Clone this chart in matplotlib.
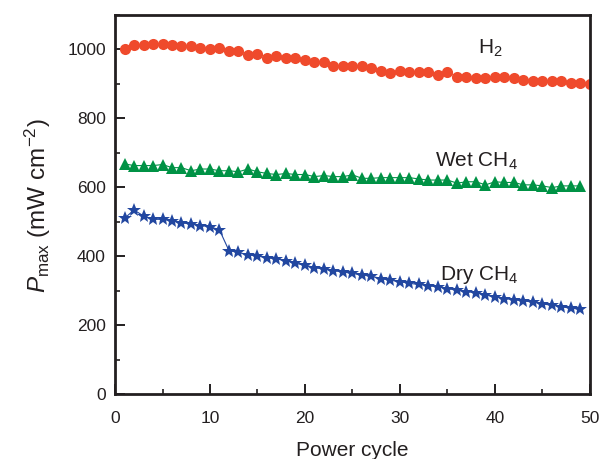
import matplotlib
matplotlib.use("Agg")
import matplotlib.pyplot as plt
from matplotlib.ticker import MultipleLocator

plt.rcParams['font.family'] = ['Liberation Sans', 'DejaVu Sans']
plt.rcParams['mathtext.fontset'] = 'custom'
plt.rcParams['mathtext.rm'] = 'Liberation Sans'
plt.rcParams['mathtext.it'] = 'Liberation Sans:italic'

# Data
cycles_h2 = list(range(1, 51))
h2 = [1000, 1013, 1013, 1017, 1017, 1013, 1009, 1009, 1005, 1000,
      1005, 995, 995, 985, 988, 976, 980, 976, 976, 970,
      963, 963, 951, 951, 951, 951, 946, 938, 933, 938,
      934, 934, 934, 925, 934, 920, 920, 916, 916, 921,
      921, 916, 912, 908, 908, 908, 908, 903, 903, 900]

cycles_ch4 = list(range(1, 50))
wet_ch4 = [668, 663, 663, 663, 666, 657, 657, 648, 653, 653,
           648, 648, 645, 653, 645, 640, 637, 640, 637, 637,
           631, 634, 631, 631, 636, 626, 626, 628, 628, 628,
           628, 624, 621, 621, 621, 612, 616, 616, 607, 616,
           614, 614, 607, 607, 604, 599, 604, 604, 604]
dry_ch4 = [510, 534, 517, 507, 507, 502, 497, 493, 489, 486,
           476, 416, 411, 404, 400, 396, 392, 387, 379, 374,
           367, 362, 358, 354, 350, 345, 342, 335, 330, 326,
           321, 318, 314, 311, 306, 301, 297, 294, 287, 282,
           277, 274, 270, 267, 261, 258, 253, 249, 246]

x_ticks = [0, 10, 20, 30, 40, 50]
y_ticks = [0, 200, 400, 600, 800, 1000]

fig = plt.figure(figsize=(6.04, 4.59), dpi=100)
ax = fig.add_axes([0.1904, 0.1416, 0.7864, 0.8257])

ax.plot(cycles_h2, h2, color='#EF4A2C', marker='o', markersize=8.0,
        linewidth=0.8, markeredgewidth=0, zorder=3)
ax.plot(cycles_ch4, wet_ch4, color='#009245', marker='^', markersize=8.2,
        linewidth=0.8, markeredgewidth=0, zorder=3)
ax.plot(cycles_ch4, dry_ch4, color='#2247A0', marker='*', markersize=10.5,
        linewidth=0.8, markeredgewidth=0, zorder=3)

ax.set_xlim(0, 50)
ax.set_ylim(0, 1100)
ax.set_xticks(x_ticks)
ax.set_yticks(y_ticks)
ax.xaxis.set_minor_locator(MultipleLocator(5))
ax.yaxis.set_minor_locator(MultipleLocator(100))

for s in ax.spines.values():
    s.set_linewidth(2.0)
    s.set_color('#231F20')
    s.set_zorder(4)

ax.tick_params(which='major', direction='in', length=7, width=1.4,
               labelsize=12.5, pad=6.5, colors='#231F20',
               top=False, right=False)
ax.tick_params(which='minor', direction='in', length=3.5, width=1.2,
               colors='#231F20', top=False, right=False)
ax.tick_params(axis='x', which='major', pad=12.5)

ax.set_xlabel('Power cycle', fontsize=15, color='#231F20')
ax.xaxis.set_label_coords(0.5, -0.124)
fig.text(0.062, 0.551, r'$P_{\mathrm{max}}$ (mW cm$^{-2}$)', fontsize=17.5,
         color='#231F20', rotation=90, ha='center', va='center')

ax.text(38.2, 1003, r'H$_2$', fontsize=15, color='#231F20', va='center')
ax.text(33.7, 675, r'Wet CH$_4$', fontsize=15, color='#231F20', va='center')
ax.text(34.2, 345, r'Dry CH$_4$', fontsize=15, color='#231F20', va='center')

fig.savefig('out.png', dpi=100)
